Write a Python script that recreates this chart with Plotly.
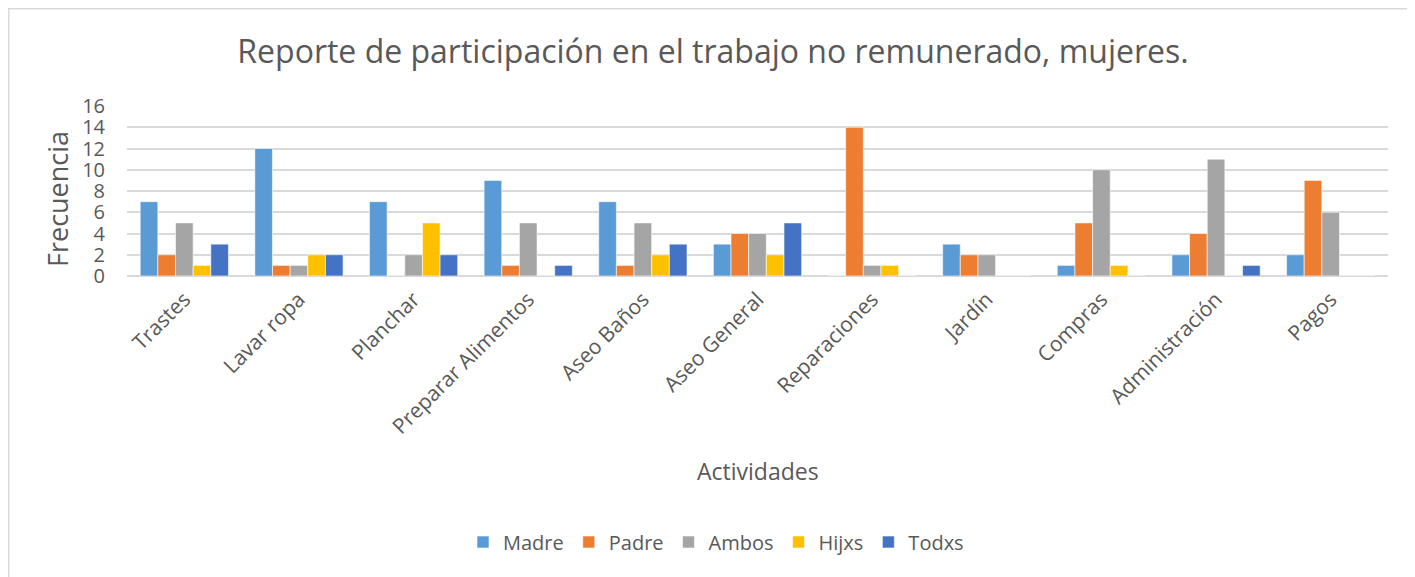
import plotly.graph_objects as go

categories = ["Trastes", "Lavar ropa", "Planchar", "Preparar Alimentos", "Aseo Baños",
              "Aseo General", "Reparaciones", "Jardín", "Compras", "Administración", "Pagos"]
madre = [7, 12, 7, 9, 7, 3, 0, 3, 1, 2, 2]
padre = [2, 1, 0, 1, 1, 4, 14, 2, 5, 4, 9]
ambos = [5, 1, 2, 5, 5, 4, 1, 2, 10, 11, 6]
hijxs = [1, 2, 5, 0, 2, 2, 1, 0, 1, 0, 0]
todxs = [3, 2, 2, 1, 3, 5, 0, 0, 0, 1, 0]
y_ticks = [0, 2, 4, 6, 8, 10, 12, 14, 16]

series = [("Madre", madre, "#5B9BD5"), ("Padre", padre, "#ED7D31"),
          ("Ambos", ambos, "#A5A5A5"), ("Hijxs", hijxs, "#FFC000"),
          ("Todxs", todxs, "#4472C4")]

FONT = "Open Sans"
GREY = "#595959"
OFF = 8  # page body margin

fig = go.Figure()
for name, vals, col in series:
    fig.add_trace(go.Bar(x=categories, y=vals, name=name, marker_color=col,
                         marker_line_color="white", marker_line_width=0.6))

W, H = 1415 - OFF, 577 - OFF
# plot area in page pixels
PL, PR, PT, PB = 127, 1388, 106, 276
L, R, T, B = PL - OFF, W - (PR - OFF), PT - OFF, H - (PB - OFF)
pw = PR - PL
ph = PB - PT

def px(x):  # page x -> paper
    return (x - PL) / pw

def py(y):  # page y -> paper
    return (PB - y) / ph

fig.update_layout(
    width=W, height=H,
    margin=dict(l=L, r=R, t=T, b=B, autoexpand=False),
    paper_bgcolor="white", plot_bgcolor="white",
    barmode="group", bargap=0.23, bargroupgap=0,
    font=dict(family=FONT, color=GREY),
    title=dict(text="Reporte de participación en el trabajo no remunerado, mujeres.",
               x=(713 - OFF) / W, xref="container", xanchor="center",
               y=1 - (52 - OFF) / H, yref="container", yanchor="middle",
               font=dict(size=32, color=GREY, family=FONT)),
    legend=dict(orientation="h", x=px(716), xanchor="center", y=py(542), yanchor="middle",
                font=dict(size=20, color=GREY), itemwidth=30, traceorder="normal"),
    showlegend=True,
)
fig.update_yaxes(range=[0, 16], tickvals=y_ticks, showgrid=True, gridcolor="#D9D9D9",
                 gridwidth=1.5, zeroline=True, zerolinecolor="#D9D9D9", zerolinewidth=1.5,
                 tickfont=dict(size=20, color=GREY), ticks="", showline=False,
                 ticklabelstandoff=21, fixedrange=True)
fig.update_xaxes(tickangle=-45, tickfont=dict(size=21, color=GREY), showline=False,
                 ticks="", showgrid=False, ticklabelstandoff=6)

fig.add_annotation(text="Actividades", xref="paper", yref="paper", x=px(758), y=py(471),
                   xanchor="center", yanchor="middle", showarrow=False,
                   font=dict(size=23, color=GREY, family=FONT))
fig.add_annotation(text="Frecuencia", xref="paper", yref="paper", x=px(57), y=py(199),
                   xanchor="center", yanchor="middle", showarrow=False, textangle=-90,
                   font=dict(size=27, color=GREY, family=FONT))
fig.add_shape(type="rect", xref="paper", yref="paper",
              x0=px(OFF + 0.75), x1=px(1430), y0=py(600), y1=py(OFF + 0.75),
              line=dict(color="#D9D9D9", width=1.5), fillcolor="rgba(0,0,0,0)", layer="below")

fig.write_html("out.html")
